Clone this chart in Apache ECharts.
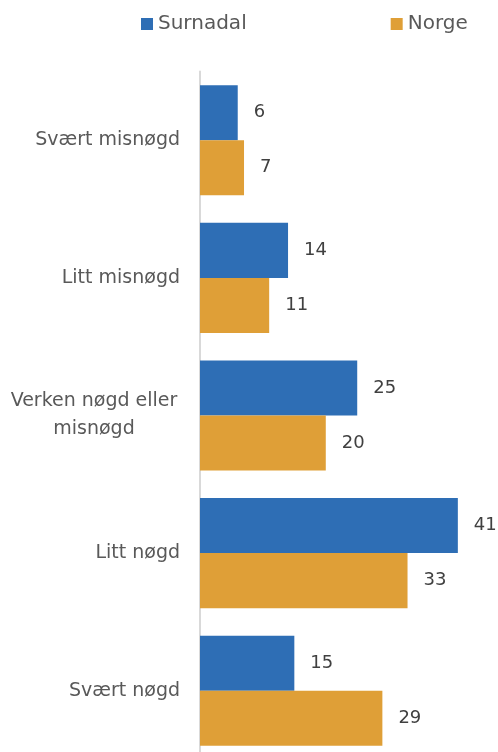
<!DOCTYPE html>
<html>
<head>
<meta charset="utf-8">
<script src="https://cdn.jsdelivr.net/npm/echarts@6/dist/echarts.min.js"></script>
<style>
  html, body { margin: 0; padding: 0; background: #fff; }
  #chart { width: 498px; height: 752px; }
</style>
</head>
<body>
<div id="chart"></div>
<script>
// kategoriar, ovanfrå og ned
const categories = ["Svært misnøgd", "Litt misnøgd", "Verken nøgd eller misnøgd", "Litt nøgd", "Svært nøgd"];
const surnadal = [6, 14, 25, 41, 15];
const norge = [7, 11, 20, 33, 29];

const FONT = "DejaVu Sans";
const myChart = echarts.init(document.getElementById("chart"));

const labelStyle = {
  show: true,
  position: "right",
  distance: 16,
  color: "#404040",
  fontSize: 18,
  fontFamily: FONT
};

let option = {
  animation: false,
  legend: {
    top: 9,
    left: 136,
    itemWidth: 12,
    itemHeight: 12,
    itemGap: 144,
    icon: "rect",
    textStyle: { color: "#595959", fontSize: 20, fontFamily: FONT },
    data: ["Surnadal", "Norge"]
  },
  grid: { left: 200, width: 283, top: 71.5, height: 688, outerBoundsMode: "none", containLabel: false },
  xAxis: {
    type: "value",
    min: 0,
    max: 45,
    show: false,
    splitLine: { show: false }
  },
  yAxis: {
    type: "category",
    inverse: true,
    data: categories,
    axisLine: { show: true, lineStyle: { color: "#d9d9d9", width: 2 } },
    axisTick: { show: false },
    axisLabel: {
      margin: 20,
      color: "#595959",
      fontSize: 19,
      fontFamily: FONT,
      formatter: function (v) {
        if (v === "Verken nøgd eller misnøgd") {
          return "{c|Verken nøgd eller}\n{c|misnøgd}";
        }
        return v;
      },
      rich: {
        c: { width: 172, align: "center", lineHeight: 28, fontSize: 19, color: "#595959", fontFamily: FONT }
      }
    }
  },
  series: [
    {
      name: "Surnadal",
      type: "bar",
      data: surnadal,
      barGap: "0%",
      barCategoryGap: "20%",
      itemStyle: { color: "#2E6EB5" },
      label: labelStyle
    },
    {
      name: "Norge",
      type: "bar",
      data: norge,
      barGap: "0%",
      barCategoryGap: "20%",
      itemStyle: { color: "#DF9F37" },
      label: labelStyle
    }
  ]
};

myChart.setOption(option);
</script>
</body>
</html>
